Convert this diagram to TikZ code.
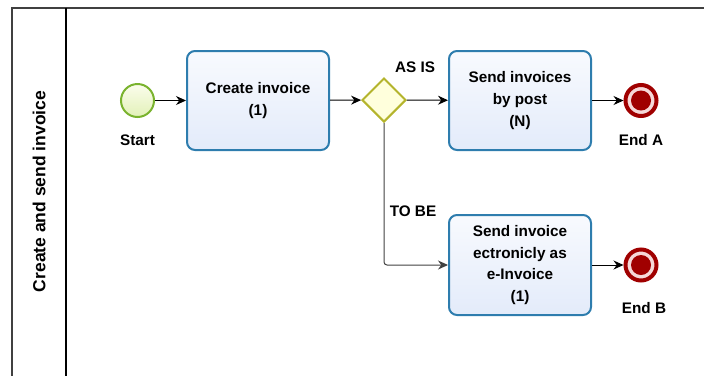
\documentclass[tikz,border=0pt]{standalone}
\usepackage{fontspec}
\setmainfont{Liberation Sans}
\usetikzlibrary{shapes.geometric,arrows.meta}
\definecolor{taskstroke}{HTML}{2E7DAE}
\definecolor{taskfillA}{HTML}{F8FAFE}
\definecolor{taskfillB}{HTML}{E3EBFA}
\definecolor{startstroke}{HTML}{7AB32E}
\definecolor{startfillA}{HTML}{FBFDEC}
\definecolor{startfillB}{HTML}{E2F1B8}
\definecolor{gwstroke}{HTML}{B4B42C}
\definecolor{gwfill}{HTML}{FFFFDC}
\definecolor{endred}{HTML}{A00000}
\definecolor{endring}{HTML}{F6D8D8}
\tikzset{
  lbl/.style={font=\fontsize{15.3}{21.7}\selectfont\bfseries, align=center, inner sep=0pt},
  taskbox/.style={lbl, rounded corners=8pt, draw=taskstroke, line width=2pt,
    top color=taskfillA, bottom color=taskfillB, minimum width=142pt, minimum height=99pt},
  startev/.style={circle, draw=startstroke, line width=2pt, top color=startfillA,
    bottom color=startfillB, minimum size=33pt, inner sep=0pt},
  gateway/.style={diamond, aspect=1, draw=gwstroke, line width=2pt, fill=gwfill,
    minimum width=44pt, minimum height=44pt, inner sep=0pt},
  endev/.style={circle, minimum size=31pt, inner sep=0pt, draw=endred, line width=4pt,
    fill=endring, path picture={\fill[endred] (path picture bounding box.center) circle (10pt);}},
  flow/.style={-{Stealth[length=10pt,width=9pt]}, line width=1pt, black},
  poolline/.style={line width=1.5pt}
}
\begin{document}
\begin{tikzpicture}[x=1pt,y=1pt]
\useasboundingbox (0,0) rectangle (704,-376);
% pool
\coordinate (ptl) at (12,-7.5);
\coordinate (ptr) at (704,-7.5);
\coordinate (pbl) at (12,-376);
\coordinate (dtop) at (66,-7.5);
\coordinate (dbot) at (66,-376);
\draw[line width=2pt, black!75] (ptr) -- (ptl) -- (pbl);
\draw[poolline] (dtop) -- (dbot);
\node[rotate=90, font=\fontsize{17.5}{20}\selectfont\bfseries] (pool) at (39,-191.5) {Create and send invoice};
% nodes
\node[startev] (start) at (137.5,-100.5) {};
\node[lbl] (startl) at (137.5,-140) {Start};
\node[taskbox] (create) at (258,-100.5) {Create invoice\\(1)};
\node[gateway] (gw) at (384,-100) {};
\node[lbl] (asis) at (415,-67) {AS IS};
\node[lbl] (tobe) at (413,-211) {TO BE};
\node[taskbox] (post) at (520,-100.5) {Send invoices\\by post\\(N)};
\node[endev] (endA) at (641,-100.5) {};
\node[lbl] (endAl) at (641,-140) {End A};
\node[taskbox, minimum height=100pt] (einv) at (520,-265) {Send invoice\\ectronicly as\\e-Invoice\\(1)};
\node[endev] (endB) at (641,-265) {};
\node[lbl] (endBl) at (644,-308) {End B};
% flows
\draw[flow] (start) -- (create);
\draw[flow] (create) -- (gw);
\draw[flow] (gw) -- (post);
\draw[flow] (post) -- (endA);
\draw[flow, draw=black!75, rounded corners=3pt] (gw.south) |- (einv.west);
\draw[flow] (einv) -- (endB);
\end{tikzpicture}
\end{document}
